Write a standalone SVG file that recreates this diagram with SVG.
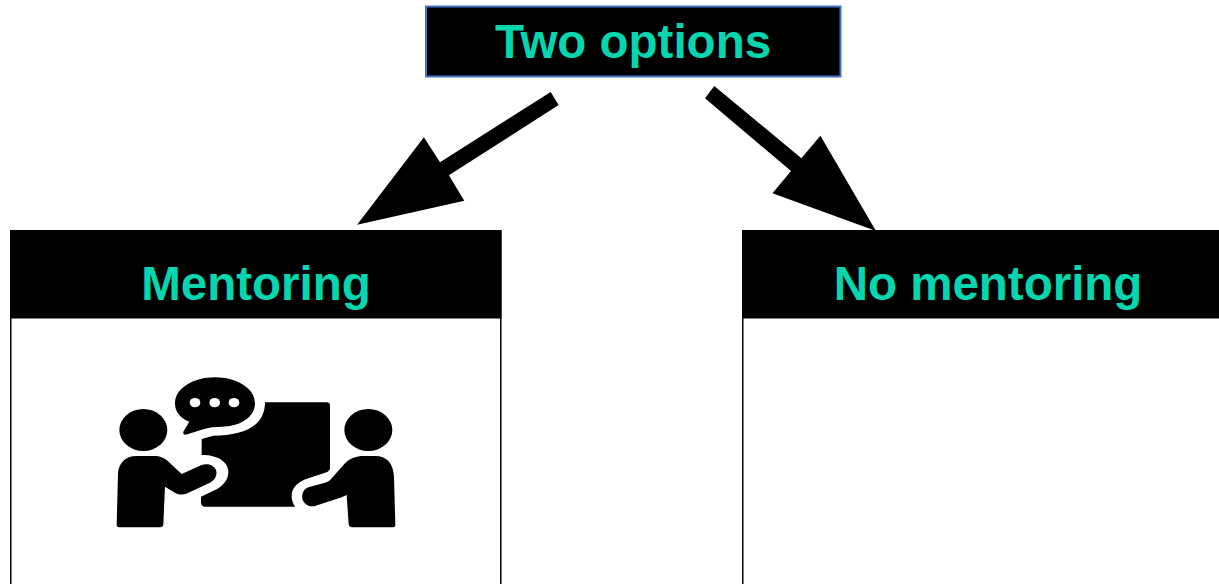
<svg xmlns="http://www.w3.org/2000/svg" width="1219" height="584" viewBox="0 0 1219 584">
<style>
text{font-family:"Liberation Sans",Arial,sans-serif;font-weight:700;fill:#06d6b0;text-anchor:middle;font-size:47.500px}
.panel{fill:#fff;stroke:#000;stroke-width:1.500}
.head{fill:#000}
.dot{fill:#fff}
</style>
<rect width="1219" height="584" fill="#fff"/>
<g id="connectors" fill="#000">
<polygon points="550.7,92 558.6,105 448.9,175.3 464.3,200.7 357.1,224.7 423.9,137.3 440,162.3"/>
<polygon points="714.3,86 705,98.3 791,171 772.5,193.3 876,231 820.4,135.7 801.4,158.3"/>
</g>
<g id="node-two-options">
<rect x="426" y="6.500" width="414.500" height="70" fill="#000" stroke="#4472c4" stroke-width="2"/>
<text x="633" y="58">Two options</text>
</g>
<g id="node-mentoring">
<rect class="panel" x="10.750" y="231" width="490" height="360"/>
<rect x="10" y="230" width="491.500" height="88.500" fill="#000"/>
<text x="256" y="300">Mentoring</text>
<g id="mentoring-icon" transform="translate(100 370) scale(.33333)">
<ellipse class="head" cx="130" cy="180" rx="72" ry="63"/>
<ellipse class="head" cx="805" cy="180" rx="72" ry="63"/>
<path d="M225 100C225 55 280 22 345 22C410 22 465 55 465 100C465 145 415 170 365 170C345 170 325 172 310 178L262 193Q248 197 250 185L268 155C240 145 225 125 225 100Z"/>
<ellipse class="dot" cx="285" cy="98" rx="16" ry="14"/>
<ellipse class="dot" cx="344" cy="98" rx="16" ry="14"/>
<ellipse class="dot" cx="402" cy="98" rx="16" ry="14"/>
<path d="M495 97H680Q690 97 690 107V295Q690 303 682 306L625 325C595 335 575 352 575 378C575 390 578 398 585 410H315Q305 410 303 400V380L345 360C375 345 385 325 385 305C385 280 360 255 305 255V207L340 197C430 197 495 170 495 97Z"/>
<path d="M50 465L54 310C56 280 75 258 110 258H165C180 258 190 263 200 270L245 312L305 285C320 280 340 283 348 300C353 315 345 330 330 338L262 370C248 376 235 375 222 367L195 350L190 462Q190 472 180 472H60Q50 472 50 465Z"/>
<path d="M886 465L882 320C880 280 860 258 825 258H790C770 258 750 265 735 280L695 325C690 332 685 335 675 338L625 352C610 358 603 375 608 390C615 405 630 412 645 408L725 382L740 375L746 462Q747 472 757 472H876Q886 472 886 465Z"/>
</g>
</g>
<g id="node-no-mentoring">
<rect class="panel" x="742.750" y="231" width="490" height="360"/>
<rect x="742" y="230" width="477" height="88.500" fill="#000"/>
<text x="988" y="300">No mentoring</text>
</g>
</svg>
